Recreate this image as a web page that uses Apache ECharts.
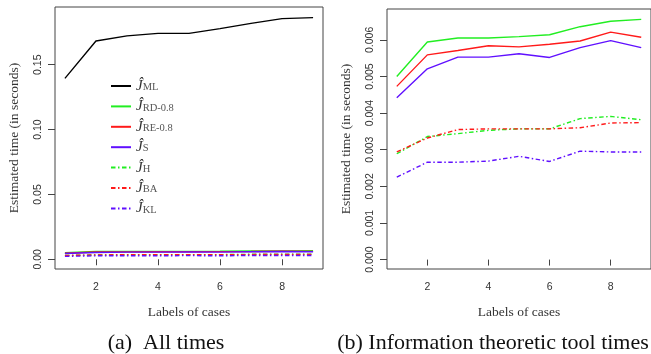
<!DOCTYPE html>
<html>
<head>
<meta charset="utf-8">
<script src="https://cdn.jsdelivr.net/npm/echarts@6/dist/echarts.min.js"></script>
<style>
html,body{margin:0;padding:0;background:#fff;}
#c{width:651px;height:354px;}
</style>
</head>
<body>
<div id="c"></div>
<script>
const cases = [1, 2, 3, 4, 5, 6, 7, 8, 9];
const xTicks = [2, 4, 6, 8];
const yTicksA = [0, 0.05, 0.10, 0.15];
const yTicksB = [0, 0.001, 0.002, 0.003, 0.004, 0.005, 0.006];

const tML   = [0.1395, 0.1683, 0.1722, 0.1742, 0.1742, 0.1778, 0.1819, 0.1855, 0.1863];
const tRD   = [0.00500, 0.00594, 0.00605, 0.00605, 0.00609, 0.00614, 0.00636, 0.00651, 0.00656];
const tRE   = [0.00473, 0.00559, 0.00571, 0.00584, 0.00581, 0.00588, 0.00597, 0.00621, 0.00607];
const tS    = [0.00442, 0.00521, 0.00553, 0.00553, 0.00562, 0.00552, 0.00579, 0.00598, 0.00579];
const tH    = [0.00289, 0.00336, 0.00344, 0.00353, 0.00357, 0.00357, 0.00385, 0.00391, 0.00382];
const tBA   = [0.00294, 0.00332, 0.00355, 0.00357, 0.00357, 0.00357, 0.00360, 0.00373, 0.00374];
const tKL   = [0.00225, 0.00266, 0.00266, 0.00269, 0.00282, 0.00268, 0.00296, 0.00294, 0.00294];

const names = ['ML', 'RD-0.8', 'RE-0.8', 'S', 'H', 'BA', 'KL'];
const values = [tML, tRD, tRE, tS, tH, tBA, tKL];
const colors = ['#000000', '#22ee22', '#ff1a1a', '#6010ff', '#22ee22', '#ff1a1a', '#6010ff'];
const dashes = ['solid', 'solid', 'solid', 'solid', [4.5, 2.5, 1.5, 2.5], [4.5, 2.5, 1.5, 2.5], [4.5, 2.5, 1.5, 2.5]];

const chart = echarts.init(document.getElementById('c'), null, {renderer: 'canvas'});

const tickFont = {fontFamily: 'Liberation Sans', fontSize: 10.5, color: '#333'};
const titleFont = {fontFamily: 'Liberation Serif', fontSize: 13.5, color: '#333'};

function xAxis(gridIndex) {
  return {
    type: 'value', gridIndex, min: 0.68, max: 9.32,
    axisLine: {show: false},
    splitLine: {show: false},
    axisTick: {show: true, length: 6, lineStyle: {color: '#444'}, customValues: xTicks},
    axisLabel: Object.assign({margin: 13, customValues: xTicks, formatter: v => String(v)}, tickFont),
    name: 'Labels of cases', nameLocation: 'middle', nameGap: 36,
    nameTextStyle: titleFont
  };
}
function yAxis(gridIndex, min, max, ticks, digits) {
  return {
    type: 'value', gridIndex, min, max,
    axisLine: {show: false},
    splitLine: {show: false},
    axisTick: {show: true, length: 7, lineStyle: {color: '#444'}, customValues: ticks},
    axisLabel: Object.assign({rotate: 90, margin: 11, customValues: ticks, formatter: v => v.toFixed(digits)}, tickFont),
    name: 'Estimated time (in seconds)', nameLocation: 'middle', nameRotate: 90, nameGap: 34,
    nameTextStyle: titleFont
  };
}

const series = [];
names.forEach((n, i) => {
  series.push({
    name: n, type: 'line', xAxisIndex: 0, yAxisIndex: 0,
    data: cases.map((c, k) => [c, values[i][k]]),
    symbol: 'none', showSymbol: false,
    lineStyle: {color: colors[i], width: 1.4, type: dashes[i]},
    itemStyle: {color: colors[i]},
    animation: false
  });
});
names.forEach((n, i) => {
  if (i === 0) return;
  series.push({
    name: n, type: 'line', xAxisIndex: 1, yAxisIndex: 1,
    data: cases.map((c, k) => [c, values[i][k]]),
    symbol: 'none', showSymbol: false,
    lineStyle: {color: colors[i], width: 1.4, type: dashes[i]},
    itemStyle: {color: colors[i]},
    animation: false
  });
});

chart.setOption({
  animation: false,
  backgroundColor: '#fff',
  grid: [
    {left: 55, top: 7, width: 268, height: 262, show: true, borderColor: '#444', borderWidth: 1},
    {left: 387, top: 9, width: 269, height: 260, show: true, borderColor: '#444', borderWidth: 1}
  ],
  xAxis: [xAxis(0), xAxis(1)],
  yAxis: [
    yAxis(0, -0.0075, 0.1945, yTicksA, 2),
    yAxis(1, -0.000257, 0.006843, yTicksB, 3)
  ],
  legend: {
    data: names,
    orient: 'vertical',
    left: 105, top: 73,
    itemWidth: 20, itemHeight: 10, itemGap: 4.9,
    selectedMode: false,
    itemStyle: {opacity: 0, borderWidth: 0},
    formatter: n => '{j|Ĵ}{s|' + n + '}',
    textStyle: {
      rich: {
        j: {fontFamily: 'Liberation Serif', fontStyle: 'italic', fontSize: 15, lineHeight: 14, color: '#333'},
        s: {fontFamily: 'Liberation Serif', fontSize: 10.5, lineHeight: 14, color: '#555', verticalAlign: 'bottom', padding: [4, 0, 0, 0]}
      }
    }
  },
  graphic: [
    {type: 'text', x: 166, y: 343, style: {text: '(a)  All times', textAlign: 'center', textVerticalAlign: 'middle', fontFamily: 'Liberation Serif', fontSize: 22, fill: '#111'}},
    {type: 'text', x: 493, y: 343, style: {text: '(b) Information theoretic tool times', textAlign: 'center', textVerticalAlign: 'middle', fontFamily: 'Liberation Serif', fontSize: 22, fill: '#111'}}
  ],
  series
});
</script>
</body>
</html>
